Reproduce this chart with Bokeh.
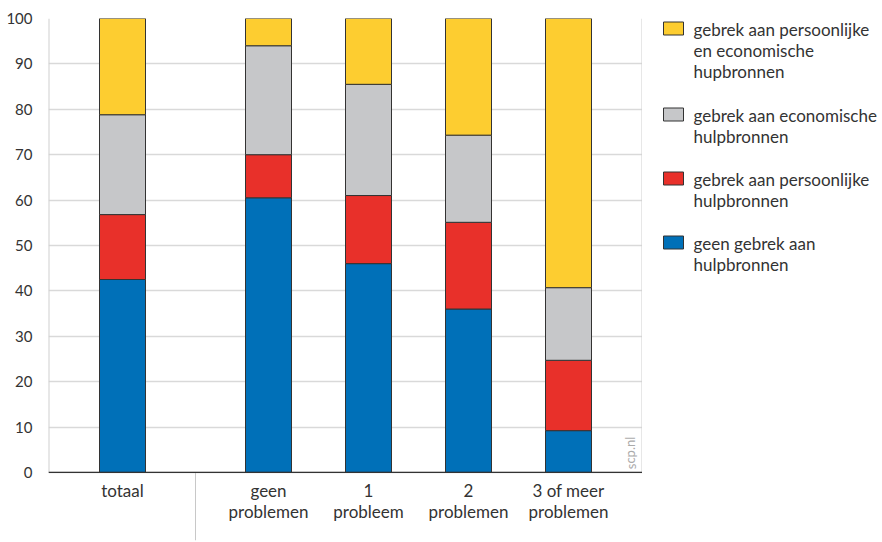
from bokeh.plotting import figure
from bokeh.models import Range1d, FixedTicker, Label, ColumnDataSource, Span
from bokeh.layouts import row
from bokeh.embed import file_html
from bokeh.resources import INLINE
from bokeh.core.properties import value

# ---- data ----
categories = ["totaal", "geen\nproblemen", "1\nprobleem", "2\nproblemen", "3 of meer\nproblemen"]
geen_gebrek = [42.5, 60.5, 46.0, 36.0, 9.2]
gebrek_persoonlijk = [14.3, 9.5, 15.0, 19.1, 15.5]
gebrek_economisch = [22.0, 24.0, 24.5, 19.2, 16.0]
gebrek_beide = [21.2, 6.0, 14.5, 25.7, 59.3]
y_ticks = [0, 10, 20, 30, 40, 50, 60, 70, 80, 90, 100]

series_keys = ["geen", "pers", "econ", "beide"]
series_labels = [
    "geen gebrek aan\nhulpbronnen",
    "gebrek aan persoonlijke\nhulpbronnen",
    "gebrek aan economische\nhulpbronnen",
    "gebrek aan persoonlijke\nen economische\nhupbronnen",
]
colors = ["#0070B8", "#E8302A", "#C6C7C9", "#FDCD30"]

FONT = "Lato"
TXT = "#333333"

# layout positions (screen-like units): first bar, then a gap, then the rest
step = 100
gap = 46
xpos = [0] + [gap + step * i for i in range(1, len(categories))]
X0, X1 = -74, 520
Y_LOW = -15  # room below the baseline for category labels

source = ColumnDataSource(dict(
    x=xpos, geen=geen_gebrek, pers=gebrek_persoonlijk,
    econ=gebrek_economisch, beide=gebrek_beide))

p = figure(width=642, height=542, output_backend="svg", toolbar_location=None,
           x_range=Range1d(X0, X1), y_range=Range1d(Y_LOW, 100),
           x_axis_location=None,
           min_border_left=48, min_border_right=0, min_border_top=18,
           min_border_bottom=2)

p.outline_line_color = None
p.xgrid.grid_line_color = None
p.ygrid.ticker = FixedTicker(ticks=y_ticks)
p.ygrid.grid_line_color = "#d9d9d9"
p.ygrid.grid_line_width = 1.5
p.ygrid.level = "underlay"

# left and right frame lines of the plotting area
p.segment(x0=[X0, X1], y0=[0, 0], x1=[X0, X1], y1=[100, 100],
          line_color="#cfcfcf", line_width=2)

p.vbar_stack(series_keys, x="x", width=46, color=colors, source=source,
             line_color="#333333", line_width=1)

# baseline
p.add_layout(Span(location=0, dimension="width", line_color="#333333", line_width=1.2))

# separator between 'totaal' and the rest
sep_x = (xpos[0] + xpos[1]) / 2
p.segment(x0=[sep_x], y0=[0], x1=[sep_x], y1=[Y_LOW], line_color="#c8c8c8", line_width=1)

# category labels
p.text(x=xpos, y=[-1.6] * len(xpos), text=categories, text_font=value(FONT),
       text_font_size="17px", text_color=TXT, text_align="center",
       text_baseline="top", text_line_height=1.0)

p.yaxis.ticker = FixedTicker(ticks=y_ticks)
p.yaxis.axis_line_color = None
p.yaxis.major_tick_line_color = None
p.yaxis.minor_tick_line_color = None
p.yaxis.major_label_standoff = 10
p.yaxis.major_label_text_font = FONT
p.yaxis.major_label_text_font_size = "15px"
p.yaxis.major_label_text_color = TXT

p.add_layout(Label(x=508, y=0.7, text="scp.nl", angle=1.5708, text_font=FONT,
                   text_font_size="13px", text_color="#aaaaaa",
                   text_baseline="middle", text_align="left"))

# ---- legend as separate panel (frame aligned with the main frame: y in page px) ----
lg = figure(width=240, height=542, output_backend="svg", toolbar_location=None,
            x_range=Range1d(0, 240), y_range=Range1d(540, 18),
            min_border_left=0, min_border_right=0, min_border_top=18,
            min_border_bottom=2)
lg.axis.visible = False
lg.grid.visible = False
lg.outline_line_color = None

order = [3, 2, 1, 0]
line_h = 22
ys = []
cur = 28
for i in order:
    ys.append(cur)
    cur += series_labels[i].count("\n") * line_h + line_h + 20
lg.rect(x=[31] * 4, y=ys, width=20, height=13,
        fill_color=[colors[i] for i in order], line_color="#333333", line_width=1)
lg.text(x=[51] * 4, y=[yy - 10 for yy in ys], text=[series_labels[i] for i in order],
        text_font=value(FONT), text_font_size="17px", text_color=TXT,
        text_baseline="top", text_align="left", text_line_height=1.0)

layout = row(p, lg)
open("out.html", "w").write(file_html(layout, INLINE))
